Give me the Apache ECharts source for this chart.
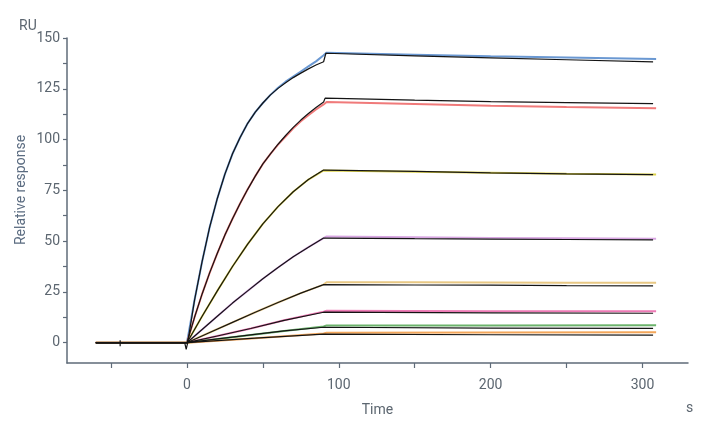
<!DOCTYPE html>
<html>
<head>
<meta charset="utf-8">
<style>
  html, body { margin: 0; padding: 0; background: #fff; }
  #main { width: 712px; height: 432px; }
</style>
<script src="https://cdn.jsdelivr.net/npm/echarts@6/dist/echarts.min.js"></script>
</head>
<body>
<div id="main"></div>
<script>
// 刻度
const xLabelValues = [0, 100, 200, 300];
const xTickValues = [-50, 0, 50, 100, 150, 200, 250, 300];
const yLabelValues = [0, 25, 50, 75, 100, 125, 150];
const yTickValues = [0, 12.5, 25, 37.5, 50, 62.5, 75, 87.5, 100, 112.5, 125, 137.5, 150];

// 实测曲线 [时间 s, 响应 RU]
const blueData = [[-60,0],[0,0],[5,21],[10,40],[15,57],[20,71],[25,83],[30,93],[35,101],[40,108],[45,113.5],[50,118],[55,122],[60,125.5],[65,128.5],[70,131],[75,133.5],[80,136],[85,138.5],[90,141.5],[92,142.8],[150,141.8],[200,141],[250,140.4],[309,139.7]];
const redData = [[-60,0],[0,0],[5,12.5],[10,24],[15,34.5],[20,44],[25,53],[30,61],[35,68.5],[40,75.5],[45,82],[50,88],[55,93],[60,97.5],[65,101.5],[70,105.5],[75,109],[80,112],[85,114.8],[90,117.3],[92,118.5],[150,117.5],[200,116.7],[250,116],[309,115.4]];
const yellowData = [[-60,0],[0,0],[10,13],[20,25.5],[30,37.5],[40,48.5],[50,58.5],[60,67],[70,74.3],[80,80.3],[90,84.8],[150,84.2],[200,83.7],[250,83.2],[309,82.8]];
const lilacData = [[-60,0],[0,0],[10,6.5],[20,13],[30,19.5],[40,25.5],[50,31.5],[60,37],[70,42.3],[80,47],[90,51.5],[92,52.3],[150,51.9],[200,51.6],[250,51.4],[309,51.2]];
const tanData = [[-60,0],[0,0],[15,5],[30,10],[45,15],[60,19.8],[75,24.4],[90,28.6],[92,29.8],[150,29.7],[200,29.6],[250,29.5],[309,29.5]];
const pinkData = [[-60,0],[0,0],[20,3.3],[42,7],[64,11],[90,15.3],[92,15.7],[200,15.5],[309,15.5]];
const greenData = [[-60,0],[0,0],[42,3.8],[64,5.8],[90,8],[92,8.5],[200,8.5],[309,8.6]];
const orangeData = [[-60,0],[0,0],[45,2.2],[90,4.5],[92,4.9],[200,5],[309,5.1]];

// 拟合曲线
const blueFit = [[-60,0],[-44,0],[-44,1.2],[-44,-1.8],[-44,0],[-1.5,0],[-0.5,-3.3],[0.5,0],[5,21],[10,40],[15,57],[20,71],[25,83],[30,93],[35,101],[40,108],[45,113.5],[50,118],[55,122],[60,125.2],[65,128],[70,130.5],[75,132.7],[80,134.8],[85,136.7],[90,138.3],[91.5,142.5],[150,141.2],[200,140.2],[250,139.3],[307,138.2]];
const redFit = [[-60,0],[0,0],[5,12.5],[10,24],[15,34.5],[20,44],[25,53],[30,61],[35,68.5],[40,75.5],[45,82],[50,88],[55,93],[60,97.7],[65,102],[70,106],[75,109.6],[80,112.8],[85,115.8],[90,118.5],[91,120.4],[150,119.4],[200,118.7],[250,118.2],[307,117.7]];
const yellowFit = [[-60,0],[0,0],[10,13],[20,25.5],[30,37.5],[40,48.5],[50,58.5],[60,67],[70,74.3],[80,80.3],[90,85],[150,84.3],[200,83.6],[250,83.1],[307,82.7]];
const lilacFit = [[-60,0],[0,0],[10,6.5],[20,13],[30,19.5],[40,25.5],[50,31.5],[60,37],[70,42.3],[80,47],[90,51.5],[150,51.2],[200,51],[250,50.8],[307,50.6]];
const tanFit = [[-60,0],[0,0],[15,5],[30,10],[45,15],[60,19.8],[75,24.4],[90,28.6],[150,28.4],[200,28.3],[250,28.1],[307,28]];
const pinkFit = [[-60,0],[0,0],[20,3.3],[42,7],[64,11],[90,15],[200,14.7],[307,14.5]];
const greenFit = [[-60,0],[0,0],[42,3.8],[64,5.8],[90,7.6],[200,7.2],[307,7]];
const orangeFit = [[-60,0],[0,0],[45,2.2],[90,4.2],[200,3.9],[307,3.7]];

const measured = [
	{ data: blueData, color: "#6a98d2" },
	{ data: redData, color: "#f07a7a" },
	{ data: yellowData, color: "#ddd24a" },
	{ data: lilacData, color: "#d8a6e2" },
	{ data: tanData, color: "#e8c884" },
	{ data: pinkData, color: "#ee7ab5" },
	{ data: greenData, color: "#6cb36c" },
	{ data: orangeData, color: "#f3a65a" }
];
const fits = [blueFit, redFit, yellowFit, lilacFit, tanFit, pinkFit, greenFit, orangeFit];

const axisColor = "#5f6b78";
const textColor = "#5c6670";

document.addEventListener("DOMContentLoaded", () => {
	const chart = echarts.init(document.getElementById("main"));

	const series = [];
	// 先画实测，再画拟合（黑线）
	measured.forEach((m) => {
		series.push({
			type: "line",
			data: m.data,
			showSymbol: false,
			lineStyle: { color: m.color, width: 2 },
			z: 2
		});
	});
	fits.forEach((f) => {
		series.push({
			type: "line",
			data: f,
			showSymbol: false,
			lineStyle: { color: "#141414", width: 1.2 },
			z: 3
		});
	});

	chart.setOption({
		animation: false,
		grid: { left: 67, right: 24, top: 38, bottom: 69 },
		xAxis: {
			type: "value",
			min: -79,
			max: 330,
			name: "Time",
			nameLocation: "middle",
			nameGap: 40,
			nameTextStyle: { color: textColor, fontSize: 14, fontFamily: "Roboto" },
			axisLine: { show: true, onZero: false, lineStyle: { color: axisColor, width: 1.5 } },
			axisTick: { show: true, length: 5, customValues: xTickValues, lineStyle: { color: axisColor, width: 1.2 } },
			axisLabel: { customValues: xLabelValues, color: textColor, fontSize: 14, fontFamily: "Roboto", margin: 15 },
			splitLine: { show: false }
		},
		yAxis: {
			type: "value",
			min: -10,
			max: 150,
			axisLine: { show: true, onZero: false, lineStyle: { color: axisColor, width: 1.5 } },
			axisTick: { show: true, length: 4, customValues: yTickValues, lineStyle: { color: axisColor, width: 1.2 } },
			axisLabel: { customValues: yLabelValues, color: textColor, fontSize: 14, fontFamily: "Roboto", margin: 7 },
			splitLine: { show: false }
		},
		graphic: [
			{ type: "text", left: 19, top: 19, style: { text: "RU", fill: textColor, font: "14px Roboto" } },
			{ type: "text", left: 686, top: 401, style: { text: "s", fill: textColor, font: "14px Roboto" } },
			{
				type: "text",
				x: 21,
				y: 190,
				rotation: Math.PI / 2,
				style: { text: "Relative response", fill: "#5a6b80", font: "14px Roboto", align: "center", verticalAlign: "middle" }
			}
		],
		series: series
	});
});
</script>
</body>
</html>
